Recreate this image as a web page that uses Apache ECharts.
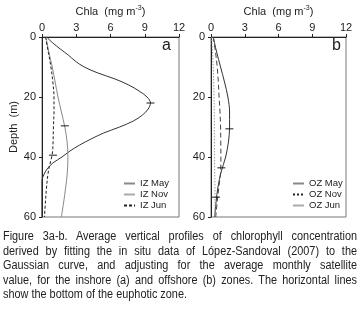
<!DOCTYPE html>
<html>
<head>
<meta charset="utf-8">
<script src="https://cdn.jsdelivr.net/npm/echarts@6/dist/echarts.min.js"></script>
<style>
  html, body { margin: 0; padding: 0; background: #fff; }
  #wrap { position: relative; width: 361px; height: 315px; overflow: hidden; }
  #chart { position: absolute; left: 0; top: 0; width: 361px; height: 315px; }
  #caption {
    position: absolute; left: 3px; top: 229px;
    font-family: "Liberation Sans", Arial, sans-serif;
    font-size: 12.5px; line-height: 14.6px; color: #222;
    transform-origin: 0 0; white-space: nowrap;
  }
  #caption div { text-align: justify; text-align-last: justify; }
  #caption div.last { text-align: left; text-align-last: left; }
</style>
</head>
<body>
<div id="wrap">
  <div id="chart"></div>
  <div id="caption">
    <div>Figure 3a-b. Average vertical profiles of chlorophyll concentration</div>
    <div>derived by fitting the in situ data of López-Sandoval (2007) to the</div>
    <div>Gaussian curve, and adjusting for the average monthly satellite</div>
    <div>value, for the inshore (a) and offshore (b) zones. The horizontal lines</div>
    <div class="last">show the bottom of the euphotic zone.</div>
  </div>
</div>
<script>
// ---------- data ----------
const xTicks = [0, 3, 6, 9, 12];          // Chla (mg m-3)
const yTicks = [0, 20, 40, 60];           // Depth (m)

// Panel a : inshore zone
const depthA_May = [0,2,4,6,8,10,12,14,16,18,20,22,24,26,28,30,32,34,36,38,40,42,44,46,48,54,60];
const chlaA_May  = [0.4,0.95,1.6,2.3,2.9,3.7,4.9,6.4,7.6,8.5,9.2,9.5,9.3,8.8,8.0,6.8,5.4,4.3,3.3,2.45,1.75,0.95,0.45,0.15,0,0,0];
const depthA_Nov = [0,5,10,15,20,25,30,35,40,45,50,55,60];
const chlaA_Nov  = [0.35,0.6,0.9,1.15,1.4,1.7,2.0,2.2,2.27,2.22,2.08,1.9,1.7];
const depthA_Jun = [0,5,10,15,20,25,30,35,38,40,42,45,50,55,60];
const chlaA_Jun  = [0.3,0.55,0.78,0.95,1.05,1.05,1.0,0.97,0.93,0.85,0.72,0.55,0.4,0.3,0.22];
// euphotic zone bottom markers (chla, depth)
const euphoticA = [[9.5,22],[2.0,29.6],[0.96,39.4]];

// Panel b : offshore zone
const depthB = [0,5,10,15,20,25,30,35,40,45,50,55,60];
const chlaB_May = [0.2,0.5,0.85,1.2,1.5,1.65,1.65,1.55,1.3,0.9,0.62,0.45,0.33];
const chlaB_Nov = [0.2,0.4,0.55,0.65,0.72,0.8,0.85,0.87,0.88,0.85,0.7,0.55,0.42];
const chlaB_Jun = [0.06,0.13,0.2,0.24,0.27,0.29,0.3,0.3,0.31,0.33,0.35,0.36,0.36];
const euphoticB = [[1.63,30.6],[0.92,43.6],[0.45,53.4]];

const legendA = ['IZ May','IZ Nov','IZ Jun'];
const legendB = ['OZ May','OZ Nov','OZ Jun'];

// ---------- caption: condensed look, justified lines ----------
(function fitCaption() {
  const cap = document.getElementById('caption');
  const last = cap.querySelector('.last');
  const span = document.createElement('span');
  span.textContent = last.textContent;
  last.textContent = '';
  last.appendChild(span);
  const w = span.getBoundingClientRect().width;
  const scale = 184 / w;
  cap.style.width = (354 / scale) + 'px';
  cap.style.transform = 'scaleX(' + scale + ')';
})();

// ---------- build ----------
const FONT = '"Liberation Sans", Arial, sans-serif';
const pairs = (xs, ds) => xs.map((v, i) => [v, ds[i]]);

function xAxisCfg(gi) {
  return {
    gridIndex: gi, type: 'value', position: 'top', min: xTicks[0], max: xTicks[xTicks.length-1], interval: 3,
    name: 'Chla  (mg m{sup|-3})', nameLocation: 'middle', nameGap: 19,
    nameTextStyle: { fontFamily: FONT, fontSize: 11, color: '#222',
      rich: { sup: { fontFamily: FONT, fontSize: 7, color: '#222', verticalAlign: 'top', padding: [0,0,6,0] } } },
    axisLine: { show: true, lineStyle: { color: '#222', width: 1 } },
    axisTick: { show: true, length: 3, lineStyle: { color: '#222' } },
    axisLabel: { margin: 4, fontFamily: FONT, fontSize: 11, color: '#222' },
    splitLine: { show: false }
  };
}
function yAxisCfg(gi, withName) {
  return {
    gridIndex: gi, type: 'value', inverse: true, min: yTicks[0], max: yTicks[yTicks.length-1], interval: 20,
    name: withName ? 'Depth  (m)' : '', nameLocation: 'middle', nameGap: 21, nameRotate: 90,
    nameTextStyle: { fontFamily: FONT, fontSize: 11, color: '#222' },
    axisLine: { show: true, lineStyle: { color: '#222', width: 1 } },
    axisTick: { show: true, length: 3, lineStyle: { color: '#222' } },
    axisLabel: { margin: 6, fontFamily: FONT, fontSize: 11, color: '#222' },
    splitLine: { show: false }
  };
}
function lineSeries(name, gi, data, color, type, width) {
  return {
    name, type: 'line', xAxisIndex: gi, yAxisIndex: gi, data,
    symbol: 'none', showSymbol: false, smooth: 0.35, silent: true,
    lineStyle: { color, type, width: width || 1 }, itemStyle: { color },
    z: 3
  };
}
function tickSeries(gi, data) {
  return {
    type: 'scatter', xAxisIndex: gi, yAxisIndex: gi, data,
    symbol: 'rect', symbolSize: [8, 1.2], itemStyle: { color: '#111' }, silent: true, z: 4
  };
}
function legendCfg(left, items) {
  return {
    left, top: 178, padding: 0, orient: 'vertical', itemWidth: 11, itemHeight: 8, itemGap: 0,
    textStyle: { fontFamily: FONT, fontSize: 9.5, color: '#222', lineHeight: 11 },
    itemStyle: { opacity: 0, borderWidth: 0 },
    data: items, selectedMode: false
  };
}

const option = {
  animation: false,
  backgroundColor: '#fff',
  grid: [
    { left: 42, top: 32, width: 137, height: 185, show: true, borderColor: '#777', borderWidth: 1 },
    { left: 211, top: 32, width: 135, height: 185, show: true, borderColor: '#777', borderWidth: 1 }
  ],
  xAxis: [xAxisCfg(0), xAxisCfg(1)],
  yAxis: [yAxisCfg(0, true), yAxisCfg(1, false)],
  legend: [
    legendCfg(123, [
      { name: legendA[0], lineStyle: { color: '#888' } },
      { name: legendA[1], lineStyle: { color: '#aaa' } },
      { name: legendA[2] }
    ]),
    legendCfg(292, [
      { name: legendB[0], lineStyle: { color: '#888' } },
      { name: legendB[1], lineStyle: { type: [2, 2], color: '#222' } },
      { name: legendB[2], lineStyle: { type: 'solid', color: '#aaa' } }
    ])
  ],
  graphic: [
    { type: 'text', left: 162, top: 38, style: { text: 'a', fontFamily: FONT, fontSize: 16, fill: '#222' } },
    { type: 'text', left: 332, top: 38, style: { text: 'b', fontFamily: FONT, fontSize: 16, fill: '#222' } }
  ],
  series: [
    lineSeries(legendA[0], 0, pairs(chlaA_May, depthA_May), '#333', 'solid', 1),
    lineSeries(legendA[1], 0, pairs(chlaA_Nov, depthA_Nov), '#888', 'solid', 1),
    lineSeries(legendA[2], 0, pairs(chlaA_Jun, depthA_Jun), '#222', [3, 2], 1),
    tickSeries(0, euphoticA),
    lineSeries(legendB[0], 1, pairs(chlaB_May, depthB), '#333', 'solid', 1),
    lineSeries(legendB[1], 1, pairs(chlaB_Nov, depthB), '#444', [5, 3], 1),
    lineSeries(legendB[2], 1, pairs(chlaB_Jun, depthB), '#999', [1.5, 1.5], 1),
    tickSeries(1, euphoticB)
  ]
};

const chart = echarts.init(document.getElementById('chart'), null, { renderer: 'canvas' });
chart.setOption(option);
</script>
</body>
</html>
